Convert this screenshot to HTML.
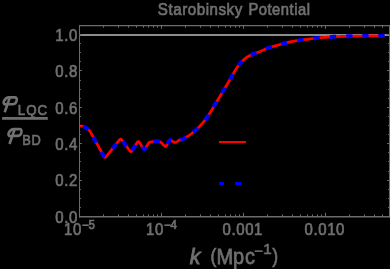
<!DOCTYPE html>
<html><head><meta charset="utf-8"><title>Starobinsky Potential</title>
<style>
html,body{margin:0;padding:0;background:#000;}
body{width:390px;height:269px;overflow:hidden;position:relative;font-family:"Liberation Sans",sans-serif;}
</style></head><body>
<svg width="390" height="269" viewBox="0 0 390 269" style="position:absolute;left:0;top:0;will-change:transform">
<rect width="390" height="269" fill="#000"/>
<line x1="79.5" y1="35.0" x2="389.5" y2="35.0" stroke="#8c8c8c" stroke-width="2"/>
<path d="M79.50,126.10 L80.06,126.10 L80.88,126.11 L81.75,126.13 L82.50,126.20 L83.08,126.33 L83.59,126.50 L84.06,126.70 L84.50,126.90 L84.90,127.10 L85.25,127.31 L85.60,127.54 L86.00,127.80 L86.46,128.09 L86.96,128.41 L87.47,128.77 L88.00,129.20 L88.57,129.75 L89.18,130.40 L89.75,131.05 L90.20,131.60 L90.49,132.02 L90.67,132.35 L90.81,132.66 L90.96,132.98 L91.15,133.33 L91.34,133.67 L91.54,134.02 L91.73,134.36 L91.92,134.71 L92.11,135.05 L92.30,135.40 L92.49,135.74 L92.68,136.09 L92.87,136.43 L93.06,136.78 L93.25,137.12 L93.44,137.47 L93.63,137.81 L93.82,138.16 L94.01,138.50 L94.21,138.85 L94.40,139.19 L94.59,139.54 L94.78,139.88 L94.97,140.23 L95.16,140.57 L95.35,140.92 L95.54,141.26 L95.73,141.61 L95.92,141.95 L96.11,142.30 L96.30,142.64 L96.49,142.99 L96.68,143.33 L96.88,143.68 L97.07,144.02 L97.26,144.37 L97.45,144.72 L97.64,145.06 L97.83,145.41 L98.02,145.75 L98.21,146.10 L98.40,146.44 L98.59,146.79 L98.78,147.13 L98.97,147.48 L99.16,147.82 L99.36,148.17 L99.55,148.51 L99.74,148.86 L99.93,149.20 L100.12,149.55 L100.31,149.89 L100.50,150.24 L100.69,150.58 L100.88,150.93 L101.07,151.27 L101.26,151.62 L101.45,151.96 L101.64,152.31 L101.83,152.65 L102.03,153.00 L102.22,153.34 L102.41,153.69 L102.60,154.03 L102.79,154.38 L102.98,154.72 L103.17,155.07 L103.37,155.43 L103.58,155.81 L103.77,156.17 L103.93,156.45 L104.05,156.64 L104.12,156.76 L104.19,156.85 L104.26,156.94 L104.35,157.03 L104.43,157.12 L104.52,157.19 L104.61,157.25 L104.70,157.30 L104.79,157.33 L104.88,157.36 L104.97,157.37 L105.06,157.37 L105.16,157.36 L105.25,157.34 L105.35,157.31 L105.44,157.27 L105.54,157.21 L105.64,157.14 L105.74,157.06 L105.82,156.99 L105.91,156.91 L106.00,156.80 L106.14,156.63 L106.34,156.39 L106.59,156.08 L106.84,155.75 L107.09,155.44 L107.33,155.14 L107.57,154.84 L107.81,154.54 L108.05,154.24 L108.28,153.94 L108.52,153.64 L108.76,153.34 L109.00,153.04 L109.23,152.74 L109.47,152.44 L109.71,152.14 L109.95,151.84 L110.18,151.54 L110.42,151.24 L110.66,150.94 L110.90,150.65 L111.14,150.35 L111.37,150.05 L111.61,149.75 L111.85,149.45 L112.09,149.15 L112.32,148.85 L112.56,148.55 L112.80,148.25 L113.04,147.95 L113.28,147.65 L113.51,147.35 L113.75,147.05 L113.99,146.75 L114.23,146.45 L114.46,146.15 L114.70,145.85 L114.94,145.56 L115.18,145.26 L115.42,144.96 L115.65,144.66 L115.89,144.36 L116.13,144.06 L116.37,143.76 L116.60,143.46 L116.84,143.16 L117.08,142.86 L117.32,142.56 L117.55,142.26 L117.79,141.96 L118.03,141.66 L118.27,141.36 L118.51,141.06 L118.76,140.75 L119.01,140.42 L119.26,140.11 L119.46,139.87 L119.60,139.70 L119.70,139.59 L119.78,139.51 L119.87,139.43 L119.97,139.35 L120.07,139.28 L120.18,139.22 L120.28,139.18 L120.38,139.14 L120.48,139.11 L120.58,139.10 L120.68,139.10 L120.78,139.10 L120.88,139.12 L120.98,139.15 L121.08,139.19 L121.18,139.25 L121.28,139.31 L121.38,139.38 L121.48,139.47 L121.56,139.55 L121.64,139.63 L121.73,139.74 L121.87,139.92 L122.08,140.20 L122.33,140.54 L122.59,140.92 L122.85,141.28 L123.10,141.62 L123.35,141.96 L123.59,142.30 L123.84,142.64 L124.08,142.97 L124.33,143.31 L124.57,143.65 L124.82,143.99 L125.06,144.33 L125.31,144.67 L125.55,145.01 L125.80,145.35 L126.05,145.69 L126.29,146.03 L126.54,146.37 L126.78,146.71 L127.03,147.05 L127.27,147.39 L127.52,147.73 L127.76,148.06 L128.01,148.40 L128.25,148.74 L128.50,149.08 L128.75,149.42 L129.01,149.78 L129.27,150.16 L129.52,150.50 L129.73,150.78 L129.87,150.96 L129.96,151.07 L130.03,151.15 L130.12,151.23 L130.21,151.31 L130.31,151.38 L130.40,151.44 L130.50,151.49 L130.59,151.53 L130.69,151.56 L130.78,151.57 L130.87,151.57 L130.97,151.56 L131.06,151.54 L131.15,151.51 L131.24,151.47 L131.34,151.41 L131.43,151.35 L131.52,151.27 L131.61,151.18 L131.69,151.10 L131.76,151.01 L131.84,150.90 L131.97,150.71 L132.15,150.43 L132.38,150.07 L132.61,149.69 L132.85,149.32 L133.07,148.98 L133.28,148.63 L133.50,148.28 L133.72,147.94 L133.94,147.59 L134.16,147.24 L134.38,146.90 L134.60,146.55 L134.82,146.20 L135.04,145.86 L135.26,145.51 L135.48,145.16 L135.70,144.82 L135.92,144.47 L136.13,144.12 L136.35,143.78 L136.59,143.41 L136.82,143.03 L137.05,142.67 L137.23,142.39 L137.36,142.20 L137.44,142.09 L137.51,142.00 L137.59,141.92 L137.68,141.83 L137.77,141.76 L137.86,141.69 L137.94,141.64 L138.03,141.60 L138.12,141.57 L138.21,141.55 L138.30,141.54 L138.39,141.55 L138.48,141.57 L138.57,141.60 L138.66,141.64 L138.75,141.69 L138.84,141.75 L138.93,141.83 L139.02,141.92 L139.09,142.00 L139.16,142.08 L139.24,142.19 L139.38,142.39 L139.57,142.69 L139.82,143.07 L140.08,143.49 L140.34,143.89 L140.58,144.27 L140.82,144.65 L141.06,145.02 L141.30,145.40 L141.54,145.78 L141.78,146.15 L142.02,146.53 L142.26,146.91 L142.52,147.31 L142.78,147.73 L143.03,148.11 L143.22,148.41 L143.36,148.61 L143.44,148.72 L143.51,148.80 L143.58,148.88 L143.67,148.97 L143.76,149.04 L143.85,149.11 L143.94,149.16 L144.02,149.20 L144.11,149.23 L144.20,149.25 L144.29,149.25 L144.38,149.24 L144.46,149.22 L144.55,149.19 L144.64,149.15 L144.73,149.10 L144.81,149.03 L144.90,148.95 L144.99,148.86 L145.06,148.79 L145.12,148.71 L145.20,148.60 L145.33,148.39 L145.54,148.05 L145.80,147.61 L146.09,147.14 L146.36,146.69 L146.61,146.26 L146.87,145.83 L147.13,145.41 L147.38,144.98 L147.66,144.53 L147.95,144.05 L148.21,143.61 L148.41,143.28 L148.52,143.11 L148.56,143.04 L148.58,143.02 L148.62,142.98 L148.68,142.91 L148.74,142.84 L148.80,142.77 L148.86,142.71 L148.93,142.65 L148.99,142.60 L149.06,142.54 L149.13,142.49 L149.21,142.44 L149.28,142.39 L149.36,142.35 L149.43,142.31 L149.51,142.27 L149.60,142.23 L149.68,142.20 L149.76,142.17 L149.83,142.15 L149.88,142.13 L149.96,142.11 L150.12,142.08 L150.36,142.02 L150.66,141.96 L151.03,141.88 L151.50,141.80 L152.11,141.70 L152.84,141.59 L153.59,141.48 L154.30,141.40 L154.92,141.34 L155.51,141.31 L156.10,141.29 L156.70,141.30 L157.35,141.33 L158.03,141.38 L158.69,141.47 L159.30,141.60 L159.81,141.77 L160.27,141.97 L160.71,142.24 L161.20,142.60 L161.78,143.13 L162.40,143.79 L163.00,144.46 L163.50,145.00 L163.87,145.38 L164.14,145.67 L164.37,145.90 L164.60,146.10 L164.82,146.27 L165.02,146.40 L165.21,146.48 L165.40,146.50 L165.60,146.47 L165.79,146.38 L165.99,146.23 L166.20,146.00 L166.42,145.68 L166.65,145.29 L166.90,144.82 L167.20,144.30 L167.56,143.67 L167.97,142.95 L168.40,142.23 L168.80,141.60 L169.17,141.06 L169.54,140.56 L169.88,140.16 L170.20,139.90 L170.47,139.82 L170.71,139.88 L170.94,140.02 L171.20,140.20 L171.48,140.42 L171.76,140.69 L172.09,141.00 L172.50,141.30 L173.03,141.64 L173.65,142.02 L174.30,142.34 L174.90,142.50 L175.43,142.47 L175.93,142.29 L176.43,142.02 L177.00,141.70 L177.63,141.28 L178.30,140.76 L179.02,140.23 L179.80,139.80 L180.59,139.58 L181.41,139.50 L182.34,139.34 L183.50,138.90 L184.99,138.07 L186.74,136.98 L188.54,135.77 L190.20,134.60 L191.66,133.51 L193.02,132.43 L194.35,131.31 L195.70,130.10 L197.12,128.78 L198.56,127.36 L199.97,125.92 L201.30,124.50 L202.52,123.11 L203.68,121.72 L204.76,120.35 L205.80,119.00 L206.70,117.80 L207.49,116.69 L208.34,115.44 L209.40,113.80 L210.72,111.69 L212.21,109.24 L213.84,106.53 L215.60,103.60 L217.61,100.25 L219.83,96.52 L222.01,92.86 L223.90,89.70 L225.40,87.19 L226.66,85.09 L227.76,83.25 L228.80,81.50 L229.73,79.93 L230.53,78.57 L231.31,77.23 L232.20,75.70 L233.26,73.83 L234.42,71.76 L235.59,69.71 L236.70,67.90 L237.70,66.42 L238.63,65.14 L239.58,63.97 L240.60,62.80 L241.75,61.59 L242.99,60.39 L244.23,59.28 L245.40,58.30 L246.47,57.50 L247.49,56.83 L248.49,56.25 L249.50,55.70 L250.45,55.21 L251.36,54.81 L252.36,54.39 L253.60,53.90 L255.15,53.30 L256.92,52.65 L258.81,51.95 L260.70,51.20 L262.60,50.37 L264.56,49.47 L266.53,48.58 L268.50,47.80 L270.45,47.17 L272.39,46.63 L274.34,46.13 L276.30,45.60 L278.24,45.03 L280.16,44.44 L282.12,43.86 L284.20,43.30 L286.48,42.74 L288.91,42.17 L291.31,41.65 L293.50,41.20 L295.39,40.85 L297.10,40.57 L298.73,40.33 L300.40,40.10 L302.07,39.89 L303.71,39.71 L305.41,39.52 L307.30,39.30 L309.44,39.02 L311.75,38.70 L314.14,38.38 L316.50,38.10 L318.86,37.86 L321.24,37.66 L323.59,37.47 L325.80,37.30 L327.75,37.15 L329.51,37.03 L331.35,36.92 L333.50,36.80 L336.03,36.67 L338.79,36.54 L341.79,36.41 L345.00,36.30 L348.28,36.21 L351.68,36.13 L355.49,36.06 L360.00,36.00 L366.05,35.94 L373.24,35.88 L379.95,35.83 L384.60,35.80" fill="none" stroke="#ff0000" stroke-width="2.7" stroke-linejoin="round"/>
<path d="M83.21,126.37 L83.59,126.50 L84.06,126.70 L84.50,126.90 L84.90,127.10 L85.25,127.31 L85.60,127.54 L86.00,127.80 L86.46,128.09 L86.96,128.41 L87.47,128.77 L88.00,129.20 L88.51,129.69M93.28,137.17 L93.44,137.47 L93.63,137.81 L93.82,138.16 L94.01,138.50 L94.21,138.85 L94.40,139.19 L94.59,139.54 L94.78,139.88 L94.97,140.23 L95.16,140.57 L95.35,140.92 L95.54,141.26 L95.73,141.61 L95.92,141.95 L96.11,142.30 L96.30,142.64 L96.32,142.68M101.38,151.82 L101.45,151.96 L101.64,152.31 L101.83,152.65 L102.03,153.00 L102.22,153.34 L102.41,153.69 L102.60,154.03 L102.79,154.38 L102.98,154.72 L103.17,155.07 L103.37,155.43 L103.58,155.81 L103.77,156.17 L103.93,156.45 L104.05,156.64 L104.12,156.76 L104.19,156.85 L104.26,156.94 L104.35,157.03 L104.43,157.12 L104.52,157.19 L104.57,157.22M112.54,148.58 L112.56,148.55 L112.80,148.25 L113.04,147.95 L113.28,147.65 L113.51,147.35 L113.75,147.05 L113.99,146.75 L114.23,146.45 L114.46,146.15 L114.70,145.85 L114.94,145.56 L115.18,145.26 L115.42,144.96 L115.65,144.66 L115.89,144.36 L116.13,144.06 L116.37,143.76 L116.46,143.64M122.75,141.14 L122.85,141.28 L123.10,141.62 L123.35,141.96 L123.59,142.30 L123.84,142.64 L124.08,142.97 L124.33,143.31 L124.57,143.65 L124.82,143.99 L125.06,144.33 L125.31,144.67 L125.55,145.01 L125.80,145.35 L126.05,145.69 L126.29,146.03 L126.45,146.24M132.12,150.48 L132.15,150.43 L132.38,150.07 L132.61,149.69 L132.85,149.32 L133.07,148.98 L133.28,148.63 L133.50,148.28 L133.72,147.94 L133.94,147.59 L134.16,147.24 L134.38,146.90 L134.60,146.55 L134.82,146.20 L135.04,145.86 L135.26,145.51 L135.48,145.16 L135.48,145.15M142.13,146.70 L142.26,146.91 L142.52,147.31 L142.78,147.73 L143.03,148.11 L143.22,148.41 L143.36,148.61 L143.44,148.72 L143.51,148.80 L143.58,148.88 L143.67,148.97 L143.76,149.04 L143.85,149.11 L143.94,149.16 L144.02,149.20 L144.11,149.23 L144.20,149.25 L144.29,149.25 L144.38,149.24 L144.46,149.22 L144.55,149.19 L144.64,149.15 L144.73,149.10 L144.81,149.03 L144.90,148.95 L144.99,148.86 L145.06,148.79 L145.12,148.71 L145.20,148.60 L145.33,148.39 L145.54,148.05 L145.80,147.61 L146.08,147.15M153.56,141.49 L153.59,141.48 L154.30,141.40 L154.92,141.34 L155.51,141.31 L156.10,141.29 L156.70,141.30 L157.35,141.33 L158.03,141.38 L158.69,141.47 L159.30,141.60 L159.80,141.76M167.37,144.00 L167.56,143.67 L167.97,142.95 L168.40,142.23 L168.80,141.60 L169.17,141.06 L169.54,140.56 L169.88,140.16 L170.20,139.90 L170.47,139.82 L170.71,139.88 L170.94,140.02 L171.20,140.20 L171.34,140.31M180.35,139.65 L180.59,139.58 L181.41,139.50 L182.34,139.34 L183.50,138.90 L184.99,138.07 L186.12,137.36M193.33,132.17 L194.35,131.31 L195.70,130.10 L197.12,128.78 L197.98,127.93M205.11,119.90 L205.80,119.00 L206.70,117.80 L207.49,116.69 L208.34,115.44 L208.77,114.78M213.48,107.13 L213.84,106.53 L215.60,103.60 L216.72,101.73M221.79,93.24 L222.01,92.86 L223.90,89.70 L225.02,87.83M229.91,79.62 L230.53,78.57 L231.31,77.23 L232.20,75.70 L233.07,74.17M238.22,65.70 L238.63,65.14 L239.58,63.97 L240.60,62.80 L241.75,61.59 L242.38,60.98M250.69,55.11 L251.36,54.81 L252.36,54.39 L253.60,53.90 L255.15,53.30 L256.55,52.79M266.07,48.79 L266.53,48.58 L268.50,47.80 L270.45,47.17 L272.02,46.74M281.17,44.15 L282.12,43.86 L284.20,43.30 L286.48,42.74 L287.26,42.56M297.28,40.54 L298.73,40.33 L300.40,40.10 L302.07,39.89 L303.53,39.73M313.37,38.48 L314.14,38.38 L316.50,38.10 L318.86,37.86 L319.64,37.80M329.86,37.01 L331.35,36.92 L333.50,36.80 L336.03,36.67 L336.15,36.66M346.25,36.27 L348.28,36.21 L351.68,36.13 L352.55,36.12M362.25,35.98 L366.05,35.94 L368.55,35.92M378.35,35.84 L379.95,35.83 L384.60,35.80" fill="none" stroke="#0000ff" stroke-width="3.9" stroke-linejoin="round"/>
<path d="M79,25.55H390" stroke="#6b6b6b" stroke-width="1.2" fill="none"/>
<path d="M79,216.7H390" stroke="#6b6b6b" stroke-width="1.6" fill="none"/>
<path d="M79.5,25V217.4M389.5,25V217.4" stroke="#6b6b6b" stroke-width="1.05" fill="none"/>
<path d="M103.5,216V214.40M103.5,26V27.70M118.5,216V214.40M118.5,26V27.70M128.5,216V214.40M128.5,26V27.70M136.5,216V214.40M136.5,26V27.70M143.5,216V214.40M143.5,26V27.70M148.5,216V214.40M148.5,26V27.70M153.5,216V214.40M153.5,26V27.70M157.5,216V214.40M157.5,26V27.70M161.5,216V212.80M161.5,26V28.80M185.5,216V214.40M185.5,26V27.70M200.5,216V214.40M200.5,26V27.70M210.5,216V214.40M210.5,26V27.70M218.5,216V214.40M218.5,26V27.70M225.5,216V214.40M225.5,26V27.70M230.5,216V214.40M230.5,26V27.70M235.5,216V214.40M235.5,26V27.70M239.5,216V214.40M239.5,26V27.70M243.5,216V212.80M243.5,26V28.80M267.5,216V214.40M267.5,26V27.70M282.5,216V214.40M282.5,26V27.70M292.5,216V214.40M292.5,26V27.70M300.5,216V214.40M300.5,26V27.70M307.5,216V214.40M307.5,26V27.70M312.5,216V214.40M312.5,26V27.70M317.5,216V214.40M317.5,26V27.70M321.5,216V214.40M321.5,26V27.70M325.5,216V212.80M325.5,26V28.80M349.5,216V214.40M349.5,26V27.70M364.5,216V214.40M364.5,26V27.70M374.5,216V214.40M374.5,26V27.70M382.5,216V214.40M382.5,26V27.70M389.5,216V214.40M389.5,26V27.70M80,207.5h0.9M389,207.5h-0.9M80,198.5h0.9M389,198.5h-0.9M80,189.5h0.9M389,189.5h-0.9M80,180.5h1.9M389,180.5h-1.9M80,171.5h0.9M389,171.5h-0.9M80,161.5h0.9M389,161.5h-0.9M80,152.5h0.9M389,152.5h-0.9M80,143.5h1.9M389,143.5h-1.9M80,134.5h0.9M389,134.5h-0.9M80,125.5h0.9M389,125.5h-0.9M80,116.5h0.9M389,116.5h-0.9M80,107.5h1.9M389,107.5h-1.9M80,98.5h0.9M389,98.5h-0.9M80,89.5h0.9M389,89.5h-0.9M80,80.5h0.9M389,80.5h-0.9M80,70.5h1.9M389,70.5h-1.9M80,61.5h0.9M389,61.5h-0.9M80,52.5h0.9M389,52.5h-0.9M80,43.5h0.9M389,43.5h-0.9M80,34.5h1.9M389,34.5h-1.9M80,25.5h0.9M389,25.5h-0.9" stroke="#6b6b6b" stroke-width="1" fill="none"/>
<rect x="219" y="141" width="27" height="2" fill="#ff0000"/>
<rect x="219" y="182" width="5" height="3" fill="#0000ff"/><rect x="235" y="182" width="6" height="3" fill="#0000ff"/>
<text transform="translate(157.80,15.30) scale(0.89,1)" font-size="17" text-anchor="start" letter-spacing="0.618" font-family="Liberation Sans, sans-serif" fill="#6f6f6f" stroke="#6f6f6f" stroke-width="0.7">Starobinsky</text>
<text transform="translate(248.40,15.30) scale(0.87,1)" font-size="17" text-anchor="start" letter-spacing="0.575" font-family="Liberation Sans, sans-serif" fill="#6f6f6f" stroke="#6f6f6f" stroke-width="0.7">Potential</text>
<text transform="translate(77.90,222.50) scale(0.88,1)" font-size="17" text-anchor="end" letter-spacing="0.682" font-family="Liberation Sans, sans-serif" fill="#6f6f6f" stroke="#6f6f6f" stroke-width="0.7">0.0</text>
<text transform="translate(77.90,186.18) scale(0.88,1)" font-size="17" text-anchor="end" letter-spacing="0.682" font-family="Liberation Sans, sans-serif" fill="#6f6f6f" stroke="#6f6f6f" stroke-width="0.7">0.2</text>
<text transform="translate(77.90,149.86) scale(0.88,1)" font-size="17" text-anchor="end" letter-spacing="0.682" font-family="Liberation Sans, sans-serif" fill="#6f6f6f" stroke="#6f6f6f" stroke-width="0.7">0.4</text>
<text transform="translate(77.90,113.54) scale(0.88,1)" font-size="17" text-anchor="end" letter-spacing="0.682" font-family="Liberation Sans, sans-serif" fill="#6f6f6f" stroke="#6f6f6f" stroke-width="0.7">0.6</text>
<text transform="translate(77.90,77.22) scale(0.88,1)" font-size="17" text-anchor="end" letter-spacing="0.682" font-family="Liberation Sans, sans-serif" fill="#6f6f6f" stroke="#6f6f6f" stroke-width="0.7">0.8</text>
<text transform="translate(77.90,40.90) scale(0.88,1)" font-size="17" text-anchor="end" letter-spacing="0.682" font-family="Liberation Sans, sans-serif" fill="#6f6f6f" stroke="#6f6f6f" stroke-width="0.7">1.0</text>
<text transform="translate(64.00,234.50) scale(0.88,1)" font-size="17" text-anchor="start" letter-spacing="0.682" font-family="Liberation Sans, sans-serif" fill="#6f6f6f" stroke="#6f6f6f" stroke-width="0.7">10</text>
<text transform="translate(81.90,228.50) scale(0.95,1)" font-size="12" text-anchor="start" font-family="Liberation Sans, sans-serif" fill="#6f6f6f" stroke="#6f6f6f" stroke-width="0.7">−5</text>
<text transform="translate(146.00,234.50) scale(0.88,1)" font-size="17" text-anchor="start" letter-spacing="0.682" font-family="Liberation Sans, sans-serif" fill="#6f6f6f" stroke="#6f6f6f" stroke-width="0.7">10</text>
<text transform="translate(163.90,228.50) scale(0.95,1)" font-size="12" text-anchor="start" font-family="Liberation Sans, sans-serif" fill="#6f6f6f" stroke="#6f6f6f" stroke-width="0.7">−4</text>
<text transform="translate(242.80,234.50) scale(0.88,1)" font-size="17" text-anchor="middle" letter-spacing="0.682" font-family="Liberation Sans, sans-serif" fill="#6f6f6f" stroke="#6f6f6f" stroke-width="0.7">0.001</text>
<text transform="translate(324.80,234.50) scale(0.88,1)" font-size="17" text-anchor="middle" letter-spacing="0.682" font-family="Liberation Sans, sans-serif" fill="#6f6f6f" stroke="#6f6f6f" stroke-width="0.7">0.010</text>
<text transform="translate(189.70,263.80) scale(0.97,1)" font-size="22" text-anchor="start" font-style="italic" font-family="Liberation Sans, sans-serif" fill="#6f6f6f" stroke="#6f6f6f" stroke-width="0.9">k</text>
<text transform="translate(210.50,262.80) scale(0.86,1)" font-size="20.5" text-anchor="start" font-family="Liberation Sans, sans-serif" fill="#6f6f6f" stroke="#6f6f6f" stroke-width="0.7">(</text>
<text transform="translate(216.40,263.90) scale(0.875,1)" font-size="22.8" text-anchor="start" font-family="Liberation Sans, sans-serif" fill="#6f6f6f" stroke="#6f6f6f" stroke-width="0.75">M</text>
<text transform="translate(232.90,263.90) scale(0.875,1)" font-size="22.8" text-anchor="start" font-family="Liberation Sans, sans-serif" fill="#6f6f6f" stroke="#6f6f6f" stroke-width="0.75">p</text>
<text transform="translate(245.10,263.90) scale(0.875,1)" font-size="22.8" text-anchor="start" font-family="Liberation Sans, sans-serif" fill="#6f6f6f" stroke="#6f6f6f" stroke-width="0.75">c</text>
<text transform="translate(254.30,256.20) scale(1.0,1)" font-size="15" text-anchor="start" font-family="Liberation Sans, sans-serif" fill="#6f6f6f" stroke="#6f6f6f" stroke-width="0.6">−</text>
<text transform="translate(263.20,254.40) scale(1.0,1)" font-size="15.2" text-anchor="start" font-family="Liberation Sans, sans-serif" fill="#6f6f6f" stroke="#6f6f6f" stroke-width="0.6">1</text>
<text transform="translate(272.30,262.80) scale(0.86,1)" font-size="20.5" text-anchor="start" font-family="Liberation Sans, sans-serif" fill="#6f6f6f" stroke="#6f6f6f" stroke-width="0.7">)</text>
<path d="M7.5,12.2 L5.8,12.4 C4.2,12.5 3.2,11.4 3.8,9.6 C4.6,7.6 6.5,5.6 8.5,5.4 L14.8,5.4 C16.3,5.4 16.8,6.4 16.7,7.8 C16.6,10.4 15.2,12.0 13.0,12.2 L7.6,12.2 M9.9,5.4 L4.7,20.3" transform="translate(0,92)" fill="none" stroke="#717171" stroke-width="2.6" stroke-linecap="butt" stroke-linejoin="round"/>
<text transform="translate(17.80,114.60) scale(0.86,1)" font-size="15.5" text-anchor="start" letter-spacing="1.105" font-family="Liberation Sans, sans-serif" fill="#6f6f6f" stroke="#6f6f6f" stroke-width="0.7">LQC</text>
<rect x="2.1" y="117.0" width="45.7" height="2.8" fill="#6c6c6c"/>
<path d="M7.5,12.2 L5.8,12.4 C4.2,12.5 3.2,11.4 3.8,9.6 C4.6,7.6 6.5,5.6 8.5,5.4 L14.8,5.4 C16.3,5.4 16.8,6.4 16.7,7.8 C16.6,10.4 15.2,12.0 13.0,12.2 L7.6,12.2 M9.9,5.4 L4.7,20.3" transform="translate(4.8,123.7)" fill="none" stroke="#717171" stroke-width="2.6" stroke-linecap="butt" stroke-linejoin="round"/>
<text transform="translate(22.30,145.20) scale(0.83,1)" font-size="15.5" text-anchor="start" letter-spacing="0.843" font-family="Liberation Sans, sans-serif" fill="#6f6f6f" stroke="#6f6f6f" stroke-width="0.7">BD</text>
</svg>
</body></html>
